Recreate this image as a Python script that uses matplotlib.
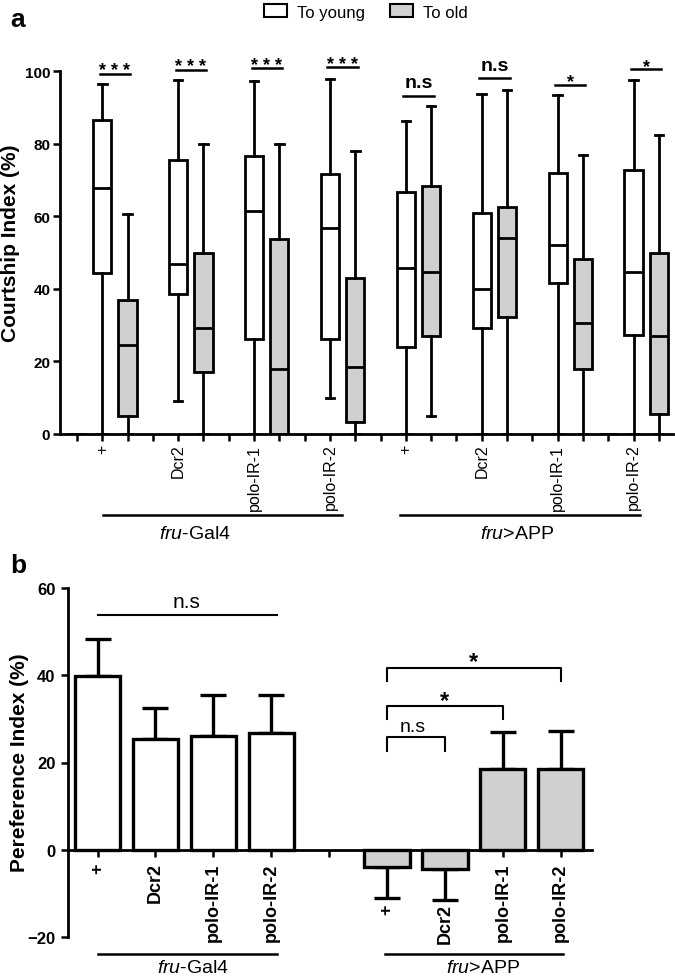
# Courtship index boxplots (a) and preference index bars (b)

import matplotlib
matplotlib.use('Agg')
import matplotlib.pyplot as plt
from matplotlib.patches import Patch
from matplotlib.transforms import ScaledTranslation

plt.rcParams['font.family'] = ['Liberation Sans', 'DejaVu Sans']
plt.rcParams['mathtext.fontset'] = 'custom'
plt.rcParams['mathtext.it'] = 'Liberation Sans:italic'
plt.rcParams['mathtext.rm'] = 'Liberation Sans'

genotypes = ['+', 'Dcr2', 'polo-IR-1', 'polo-IR-2']
drivers = [r'$\mathit{fru}$-Gal4', r'$\mathit{fru}$>APP']

# panel a: box stats per genotype (fru-Gal4 x4, then fru>APP x4)
young_whislo = [0, 9.0, 0, 9.9, 0, 0, 0, 0]
young_q1 = [44.3, 38.6, 26.2, 26.2, 24.1, 29.2, 41.5, 27.4]
young_med = [67.8, 46.8, 61.5, 56.7, 45.6, 39.9, 52.2, 44.5]
young_q3 = [86.6, 75.6, 76.7, 71.7, 66.8, 61.0, 71.9, 72.6]
young_whishi = [96.4, 97.6, 97.3, 97.8, 86.1, 93.8, 93.4, 97.6]

old_whislo = [0, 0, 0, 0, 4.9, 0, 0, 0]
old_q1 = [5.0, 17.0, 0, 3.4, 26.9, 32.3, 17.9, 5.5]
old_med = [24.6, 29.1, 17.9, 18.5, 44.5, 54.0, 30.6, 27.1]
old_q3 = [36.9, 50.0, 53.7, 42.9, 68.2, 62.4, 48.2, 49.8]
old_whishi = [60.6, 79.9, 79.9, 78.0, 90.4, 94.8, 76.9, 82.5]

sig_a = ['***', '***', '***', '***', 'n.s', 'n.s', '*', '*']
sig_a_y = [99.3, 100.3, 100.7, 101.0, 93.2, 98.1, 96.2, 100.5]
empty_cols = [0, 21]  # empty columns drawn flat at zero

# panel b: preference index mean and SEM
pref_gal4 = [39.9, 25.4, 26.0, 26.8]
sem_gal4 = [8.4, 7.1, 9.5, 8.7]
pref_app = [-4.0, -4.3, 18.6, 18.6]
sem_app = [7.0, 7.3, 8.4, 8.6]

WHITE = 'white'
GRAY = '#d0d0d0'
LW = 2.0

fig = plt.figure(figsize=(6.75, 9.78), dpi=100)


def stats(lo, q1, med, q3, hi):
    return dict(whislo=lo, q1=q1, med=med, q3=q3, whishi=hi, fliers=[])


def draw_boxes(ax, stat_list, positions, color):
    ax.bxp(stat_list, positions=positions, widths=0.72, patch_artist=True,
           showfliers=False, capwidths=0.34,
           boxprops=dict(facecolor=color, edgecolor='black', linewidth=LW),
           whiskerprops=dict(color='black', linewidth=LW),
           capprops=dict(color='black', linewidth=LW),
           medianprops=dict(color='black', linewidth=LW))


# ---------------- panel a ----------------
ax_a = fig.add_axes([60 / 675, 1 - 435 / 978, 613 / 675, 363 / 978])
n = len(young_med)
pos_young = [3 * g + 1 for g in range(n)]
pos_old = [3 * g + 2 for g in range(n)]

draw_boxes(ax_a, [stats(*v) for v in zip(young_whislo, young_q1, young_med, young_q3, young_whishi)],
           pos_young, WHITE)
draw_boxes(ax_a, [stats(*v) for v in zip(old_whislo, old_q1, old_med, old_q3, old_whishi)],
           pos_old, GRAY)
draw_boxes(ax_a, [stats(0, 0, 0, 0, 0) for _ in empty_cols], empty_cols, WHITE)

for g in range(n):
    c = (pos_young[g] + pos_old[g]) / 2
    y = sig_a_y[g]
    ax_a.plot([c - 0.6, c + 0.6], [y, y], color='black', lw=1.8, clip_on=False)
    if sig_a[g] == 'n.s':
        ax_a.text(c, y + 1.2, 'n.s', ha='center', va='bottom', fontsize=14, fontweight='bold')
    else:
        ax_a.text(c, y - 1.5, ' '.join(sig_a[g]), ha='center', va='bottom', fontsize=13,
                  fontweight='bold')

ax_a.set_xlim(-0.672, 23.56)
ax_a.set_ylim(0, 100)
ax_a.set_yticks([0, 20, 40, 60, 80, 100])
ax_a.set_xticks(range(3 * n))
labels_a = [''] * (3 * n)
for g in range(n):
    labels_a[pos_young[g]] = genotypes[g % 4]
ax_a.set_xticklabels(labels_a, rotation=90, fontsize=11.5)
for lab in ax_a.get_yticklabels():
    lab.set_fontweight('bold')
    lab.set_fontsize(11)
ax_a.tick_params(axis='both', direction='out', length=5, width=1.8, pad=2)
for side in ['top', 'right']:
    ax_a.spines[side].set_visible(False)
for side in ['left', 'bottom']:
    ax_a.spines[side].set_linewidth(2.0)
ax_a.set_ylabel('Courtship Index (%)', fontsize=15, fontweight='bold')
ax_a.yaxis.set_label_coords(-0.066, 0.527)

# driver lines under panel a
for (x0, x1, xt), name in zip([(1.03, 10.47, 4.66), (12.77, 22.25, 17.4)], drivers):
    ax_a.plot([x0, x1], [-22.3, -22.3], color='black', lw=1.8, clip_on=False)
    ax_a.text(xt, -27.5, name, ha='center', va='center', fontsize=14)

# ---------------- panel b ----------------
ax_b = fig.add_axes([68 / 675, 1 - 938 / 978, 524 / 675, 349 / 978])
ax_b.spines['bottom'].set_position(('data', 0))
pos_gal4 = [0, 1, 2, 3]
pos_app = [5, 6, 7, 8]

ax_b.bar(pos_gal4, pref_gal4, width=0.78, color=WHITE, edgecolor='black', linewidth=2.4, zorder=2)
ax_b.bar(pos_app, pref_app, width=0.78, color=GRAY, edgecolor='black', linewidth=2.4, zorder=2)

for pos, m, e in [(pos_gal4, pref_gal4, sem_gal4), (pos_app, pref_app, sem_app)]:
    lower = [ei if mi < 0 else 0 for mi, ei in zip(m, e)]
    upper = [0 if mi < 0 else ei for mi, ei in zip(m, e)]
    ax_b.errorbar(pos, m, yerr=[lower, upper], fmt='none', ecolor='black',
                  elinewidth=2.4, capsize=9.5, capthick=2.4, zorder=1)

# significance
ax_b.plot([0, 3.1], [53.8, 53.8], color='black', lw=1.5)
ax_b.text(1.53, 56.8, 'n.s', ha='center', va='center', fontsize=15)
for x1, ytop, ylow, txt, xt, yt in [(8, 41.6, 38.6, '*', 6.5, 44.2),
                                     (7, 32.9, 30.0, '*', 6.0, 35.3),
                                     (6, 25.8, 22.7, 'n.s', 5.45, 28.2)]:
    ax_b.plot([5, 5, x1, x1], [ylow, ytop, ytop, ylow], color='black', lw=1.5)
    if txt == '*':
        ax_b.text(xt, yt - 1.0, txt, ha='center', va='center', fontsize=17, fontweight='bold')
    else:
        ax_b.text(xt, yt, txt, ha='center', va='center', fontsize=14)

ax_b.set_xlim(-0.51, 8.54)
ax_b.set_ylim(-20, 60)
ax_b.set_yticks([-20, 0, 20, 40, 60])
ax_b.set_xticks(range(9))
ax_b.set_xticklabels(genotypes + [''] + genotypes, rotation=90, fontsize=13, fontweight='bold')
for lab in ax_b.get_yticklabels():
    lab.set_fontweight('bold')
    lab.set_fontsize(12)
ax_b.tick_params(axis='both', direction='out', length=5, width=1.8, pad=4)
for side in ['top', 'right']:
    ax_b.spines[side].set_visible(False)
for side in ['left', 'bottom']:
    ax_b.spines[side].set_linewidth(2.0)
ax_b.set_ylabel('Pereference Index (%)', fontsize=15, fontweight='bold')
ax_b.yaxis.set_label_coords(-0.074, 0.501)

# labels under negative bars sit below their error bars
shift = ScaledTranslation(0, -0.41, fig.dpi_scale_trans)
for i in [5, 6]:
    lab = ax_b.get_xticklabels()[i]
    lab.set_transform(lab.get_transform() + shift)

for (x0, x1, xt), name in zip([(0.01, 3.1, 1.64), (4.97, 8.04, 6.66)], drivers):
    ax_b.plot([x0, x1], [-23.8, -23.8], color='black', lw=1.8, clip_on=False)
    ax_b.text(xt, -27.0, name, ha='center', va='center', fontsize=14)

# legend and panel letters
handles = [Patch(facecolor=WHITE, edgecolor='black', linewidth=1.5),
           Patch(facecolor=GRAY, edgecolor='black', linewidth=1.5)]
fig.legend(handles, ['To young', 'To old'], loc='center', bbox_to_anchor=(366 / 675, 1 - 13 / 978),
           ncol=2, frameon=False, fontsize=12, handlelength=1.4, handleheight=0.8,
           handletextpad=0.6, columnspacing=1.5)
fig.text(18 / 675, 1 - 20 / 978, 'a', ha='center', va='center', fontsize=19, fontweight='bold')
fig.text(18 / 675, 1 - 566 / 978, 'b', ha='center', va='center', fontsize=19, fontweight='bold')

fig.savefig('out.png', dpi=100)
